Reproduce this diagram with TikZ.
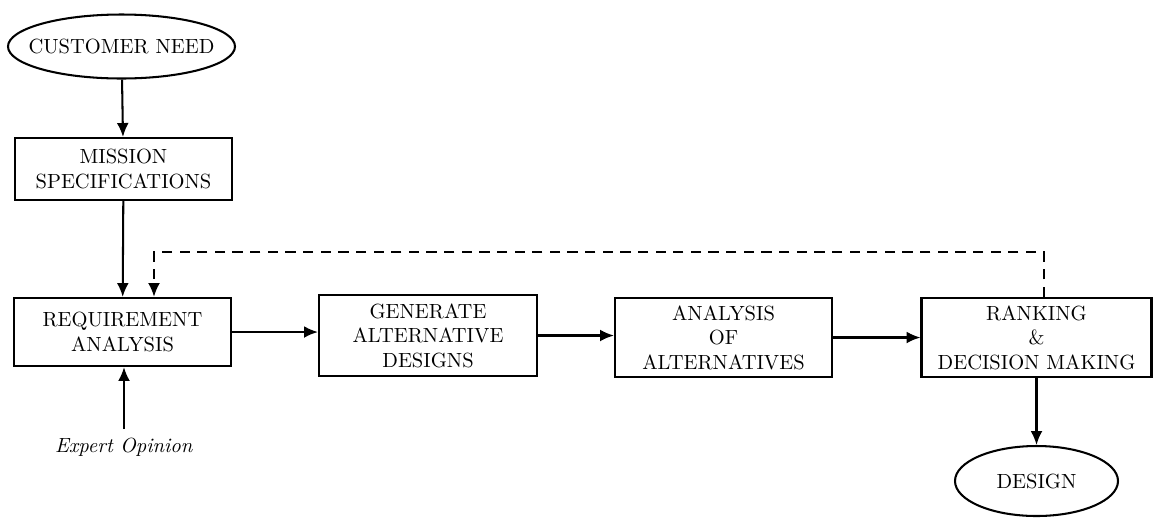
\documentclass[tikz,border=0pt]{standalone}
\usetikzlibrary{shapes.geometric,arrows.meta}
\newlength\pxu
\setlength\pxu{0.4878pt}
\begin{document}
\begin{tikzpicture}[x=0.4878pt,y=-0.4878pt,
  every node/.style={font=\normalsize},
  flowbox/.style={draw,line width=1pt,rectangle,align=center,inner sep=0pt},
  endpoint/.style={draw,line width=1pt,ellipse,inner sep=0pt},
  flow/.style={line width=1pt,-{Latex[length=6.8pt,width=5.8pt]}},
  feedback/.style={flow,dash pattern=on 5pt off 3.6pt}]
\useasboundingbox (0,0) rectangle (1154,517);

% start and end of the process (zero-width text so the ellipse keeps its set size)
\node[endpoint,minimum width=227*\pxu,minimum height=64*\pxu] (cust) at (121.5,46.5) {\makebox[0pt]{CUSTOMER NEED}};
\node[endpoint,minimum width=163*\pxu,minimum height=70*\pxu] (design) at (1036.5,481) {\makebox[0pt]{DESIGN}};

% process steps
\node[flowbox,minimum width=217*\pxu,minimum height=62*\pxu] (mission) at (123.5,169) {MISSION\\SPECIFICATIONS};
\node[flowbox,minimum width=217*\pxu,minimum height=68*\pxu] (req) at (122.5,332) {REQUIREMENT\\ANALYSIS};
\node[flowbox,minimum width=218*\pxu,minimum height=81*\pxu] (gen) at (428,335.5) {GENERATE\\ALTERNATIVE\\DESIGNS};
\node[flowbox,minimum width=217*\pxu,minimum height=79*\pxu] (ana) at (723.5,337.5) {ANALYSIS\\OF\\ALTERNATIVES};
\node[flowbox,minimum width=230*\pxu,minimum height=79*\pxu] (rank) at (1036.5,337.5) {RANKING\\\&\\DECISION MAKING};

% outside input
\node[inner sep=0pt] (expert) at (124,447) {\textit{Expert Opinion}};
\coordinate (expTop) at (124,429);

% connectors
\draw[flow] (cust) -- (mission);
\draw[flow] (mission) -- (req);
\draw[flow] (expTop) -- (expTop |- req.south);
\draw[flow] (req.east) -- (req.east -| gen.west);
\draw[flow] (gen.east) -- (gen.east -| ana.west);
\draw[flow] (ana.east) -- (rank.west);
\draw[flow] (rank) -- (design);

% feedback loop
\coordinate (fbR) at (1044,252);
\coordinate (fbL) at (154,252);
\draw[feedback] (fbR |- rank.north) -- (fbR) -- (fbL) -- (fbL |- req.north);
\end{tikzpicture}
\end{document}
